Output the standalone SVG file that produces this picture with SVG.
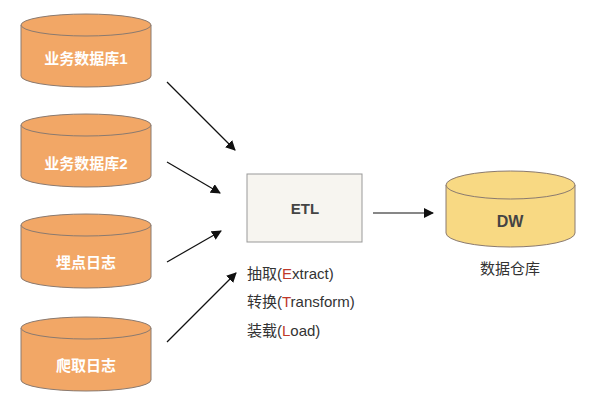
<svg xmlns="http://www.w3.org/2000/svg" width="600" height="400" viewBox="0 0 600 400">
<style>
.cyl path{stroke:#8a7a70;stroke-width:1}
.src path{fill:#F2A766}
.dw path{fill:#F8D983}
.lbl{font-family:"Liberation Sans","Noto Sans CJK SC",sans-serif;font-weight:bold;font-size:15px;fill:#fff;text-anchor:middle}
.txt{font-family:"Liberation Sans","Noto Sans CJK SC",sans-serif;font-size:15px;fill:#333}
.red{fill:#C0392B}
.conn line{stroke:#111;stroke-width:1.2;marker-end:url(#ah)}
</style>
<defs>
<marker id="ah" viewBox="0 0 10 10" refX="9" refY="5" markerWidth="10" markerHeight="10" markerUnits="userSpaceOnUse" orient="auto"><path d="M0,0 L10,5 L0,10 z" fill="#111"/></marker>
</defs>
<rect width="600" height="400" fill="#fff"/>
<g id="db1" class="cyl src">
<path d="M21,25 L21,76 A65,11 0 0 0 151,76 L151,25 A65,11 0 0 0 21,25 Z"/>
<path d="M21,25 A65,11 0 0 0 151,25" fill="none"/>
<text class="lbl" x="86" y="64">业务数据库1</text>
</g>
<g id="db2" class="cyl src">
<path d="M21,125 L21,176 A65,11 0 0 0 151,176 L151,125 A65,11 0 0 0 21,125 Z"/>
<path d="M21,125 A65,11 0 0 0 151,125" fill="none"/>
<text class="lbl" x="86" y="169">业务数据库2</text>
</g>
<g id="log1" class="cyl src">
<path d="M21,225 L21,277 A65,11 0 0 0 151,277 L151,225 A65,11 0 0 0 21,225 Z"/>
<path d="M21,225 A65,11 0 0 0 151,225" fill="none"/>
<text class="lbl" x="86" y="268">埋点日志</text>
</g>
<g id="log2" class="cyl src">
<path d="M21,328 L21,380 A65,11 0 0 0 151,380 L151,328 A65,11 0 0 0 21,328 Z"/>
<path d="M21,328 A65,11 0 0 0 151,328" fill="none"/>
<text class="lbl" x="86" y="371">爬取日志</text>
</g>
<g id="etl">
<rect x="247" y="174" width="115" height="68" fill="#F7F5F0" stroke="#999" stroke-width="1"/>
<text x="305" y="214" font-family="Liberation Sans,sans-serif" font-weight="bold" font-size="15" fill="#444" text-anchor="middle">ETL</text>
<text class="txt" x="247" y="279">抽取(<tspan class="red">E</tspan>xtract)</text>
<text class="txt" x="247" y="307">转换(<tspan class="red">T</tspan>ransform)</text>
<text class="txt" x="247" y="336">装载(<tspan class="red">L</tspan>oad)</text>
</g>
<g id="dw" class="cyl dw">
<path d="M446,185 L446,233 A64.5,14 0 0 0 575,233 L575,185 A64.5,14 0 0 0 446,185 Z"/>
<path d="M446,185 A64.5,14 0 0 0 575,185" fill="none"/>
<text x="510" y="227" font-family="Liberation Sans,sans-serif" font-weight="bold" font-size="16" fill="#444" text-anchor="middle">DW</text>
<text class="txt" x="510" y="274" text-anchor="middle">数据仓库</text>
</g>
<g id="connectors" class="conn">
<line x1="167" y1="82" x2="235" y2="150"/>
<line x1="167" y1="162" x2="220" y2="193"/>
<line x1="167" y1="262" x2="221" y2="231"/>
<line x1="167" y1="342" x2="236" y2="273"/>
<line x1="373" y1="213" x2="433" y2="213"/>
</g>
</svg>
